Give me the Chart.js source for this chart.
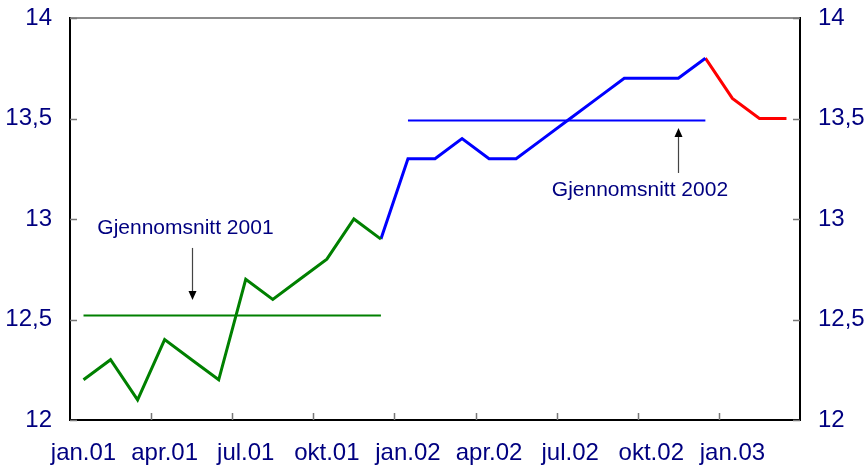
<!DOCTYPE html>
<html>
<head>
<meta charset="utf-8">
<script src="https://cdn.jsdelivr.net/npm/chart.js@4/dist/chart.umd.min.js"></script>
<style>
    html, body { margin: 0; padding: 0; background: #fff; }
</style>
</head>
<body>
<canvas id="grafico" width="865" height="467"></canvas>
<script>
// --- Data (lest av bildet) ---
const maaneder = [
    'jan.01','feb.01','mar.01','apr.01','mai.01','jun.01','jul.01','aug.01','sep.01','okt.01','nov.01','des.01',
    'jan.02','feb.02','mar.02','apr.02','mai.02','jun.02','jul.02','aug.02','sep.02','okt.02','nov.02','des.02',
    'jan.03','feb.03','mar.03'
];
const verdier2001 = [12.2, 12.3, 12.1, 12.4, 12.3, 12.2, 12.7, 12.6, 12.7, 12.8, 13.0, 12.9];
const verdier2002 = [13.3, 13.3, 13.4, 13.3, 13.3, 13.4, 13.5, 13.6, 13.7, 13.7, 13.7, 13.8];
const verdier2003 = [13.6, 13.5, 13.5];
const snitt2001 = 12.52;
const snitt2002 = 13.49;
const yTicks = [12, 12.5, 13, 13.5, 14];

const TEKST = '#000080';
const FONT  = '"Liberation Sans", Arial, sans-serif';

// Bygg serier med null der de ikke gjelder
const n = maaneder.length;
const tom = () => new Array(n).fill(null);

const gronn = tom();
verdier2001.forEach((v, i) => { gronn[i] = v; });

// blå starter i siste punkt for 2001 så linja henger sammen
const blaa = tom();
blaa[11] = verdier2001[11];
verdier2002.forEach((v, i) => { blaa[12 + i] = v; });

const roed = tom();
roed[23] = verdier2002[11];
verdier2003.forEach((v, i) => { roed[24 + i] = v; });

const linje2001 = tom();
verdier2001.forEach((v, i) => { linje2001[i] = snitt2001; });
const linje2002 = tom();
verdier2002.forEach((v, i) => { linje2002[12 + i] = snitt2002; });

// Tekst og piler (posisjon i dataverdier: indeks og y-verdi)
const merknader = [
    { tekst: 'Gjennomsnitt 2001', tx: 3.77, ty: 12.955, px: 4, fra: 12.856, til: 12.597 },
    { tekst: 'Gjennomsnitt 2002', tx: 20.58, ty: 13.144, px: 22, fra: 13.229, til: 13.453 }
];

// --- Plugin: ramme, innvendige tick-streker og merknader ---
const rammePlugin = {
    id: 'ramme',
    afterDatasetsDraw(chart) {
        const { ctx, chartArea: a, scales } = chart;
        const x = scales.x, y = scales.y;
        ctx.save();

        // topplinje
        ctx.strokeStyle = '#666';
        ctx.lineWidth = 1.5;
        ctx.beginPath();
        ctx.moveTo(a.left, a.top);
        ctx.lineTo(a.right, a.top);
        ctx.stroke();

        // tick-streker inn i plottet
        ctx.strokeStyle = '#777';
        ctx.lineWidth = 1.5;
        ctx.beginPath();
        yTicks.forEach(v => {
            const py = Math.round(y.getPixelForValue(v)) + 0.5;
            ctx.moveTo(a.left, py);  ctx.lineTo(a.left + 7, py);
            ctx.moveTo(a.right, py); ctx.lineTo(a.right - 7, py);
        });
        for (let i = 3; i < n; i += 3) {
            const px = Math.round((x.getPixelForValue(i - 1) + x.getPixelForValue(i)) / 2) + 0.5;
            ctx.moveTo(px, a.bottom); ctx.lineTo(px, a.bottom - 7);
        }
        ctx.stroke();

        // merknader
        merknader.forEach(m => {
            ctx.fillStyle = TEKST;
            ctx.font = '21px ' + FONT;
            ctx.textAlign = 'center';
            ctx.textBaseline = 'middle';
            ctx.fillText(m.tekst, x.getPixelForValue(m.tx), y.getPixelForValue(m.ty));

            const px = Math.round(x.getPixelForValue(m.px)) + 0.5;
            const y0 = y.getPixelForValue(m.fra);
            const y1 = y.getPixelForValue(m.til);
            const dir = y1 > y0 ? 1 : -1;
            ctx.strokeStyle = '#444';
            ctx.lineWidth = 1.2;
            ctx.beginPath();
            ctx.moveTo(px, y0);
            ctx.lineTo(px, y1 - dir * 8);
            ctx.stroke();
            ctx.fillStyle = '#000';
            ctx.beginPath();
            ctx.moveTo(px, y1);
            ctx.lineTo(px - 4, y1 - dir * 9);
            ctx.lineTo(px + 4, y1 - dir * 9);
            ctx.closePath();
            ctx.fill();
        });

        ctx.restore();
    }
};

const yAkse = (pos, bredde) => ({
    position: pos,
    min: 12,
    max: 14,
    grid: { display: false, drawTicks: false },
    border: { display: true, color: '#000', width: 2 },
    ticks: {
        stepSize: 0.5,
        padding: 18,
        color: TEKST,
        font: { size: 24, family: FONT },
        callback: v => String(v).replace('.', ',')
    },
    // fast bredde, og ingen ekstra luft over/under for etikettene
    afterFit: s => { s.width = bredde; s.paddingTop = 0; s.paddingBottom = 0; }
});

const linje = (data, farge, bredde) => ({
    data,
    borderColor: farge,
    backgroundColor: farge,
    borderWidth: bredde,
    pointRadius: 0,
    tension: 0,
    fill: false,
    spanGaps: false
});

new Chart(document.getElementById('grafico'), {
    type: 'line',
    data: {
        labels: maaneder,
        datasets: [
            linje(linje2001, '#008000', 2),
            linje(linje2002, '#0000ff', 2),
            linje(gronn, '#008000', 3),
            linje(blaa, '#0000ff', 3),
            linje(roed, '#ff0000', 3)
        ]
    },
    options: {
        responsive: false,
        animation: false,
        devicePixelRatio: 1,
        layout: { padding: { top: 18, left: 0, right: 0, bottom: 0 } },
        plugins: {
            legend: { display: false },
            tooltip: { enabled: false }
        },
        scales: {
            x: {
                offset: true,
                grid: { display: false, drawTicks: false },
                border: { display: true, color: '#000', width: 2 },
                ticks: {
                    autoSkip: false,
                    maxRotation: 0,
                    padding: 19,
                    color: TEKST,
                    font: { size: 24, family: FONT },
                    callback: (v, i) => (i % 3 === 0 ? maaneder[i] : '')
                },
                afterFit: s => { s.height = 47; s.paddingLeft = 0; s.paddingRight = 0; }
            },
            y: yAkse('left', 70),
            y2: yAkse('right', 65)
        }
    },
    plugins: [rammePlugin]
});
</script>
</body>
</html>
